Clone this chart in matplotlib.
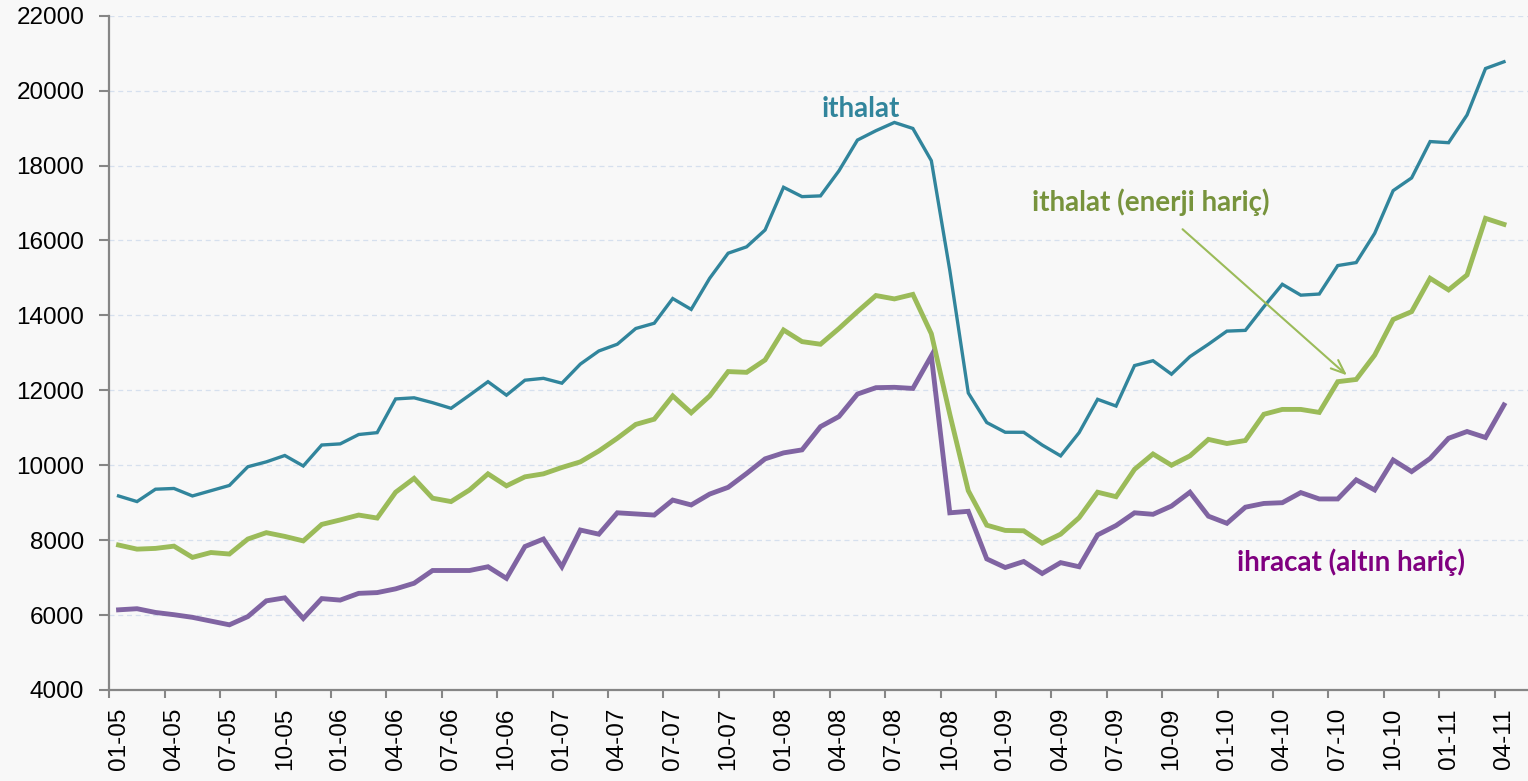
import matplotlib
matplotlib.use("Agg")
import matplotlib.pyplot as plt
import numpy as np

# ---- data (monthly, 01-2005 .. 04-2011) ----
ithalat = [9180, 9030, 9360, 9380, 9180, 9320, 9460, 9960, 10090, 10260, 9980, 10540,
           10570, 10820, 10870, 11770, 11800, 11670, 11520, 11870, 12230, 11870, 12270, 12320,
           12190, 12700, 13050, 13230, 13650, 13790, 14450, 14160, 14990, 15660, 15830, 16280,
           17420, 17170, 17190, 17860, 18680, 18930, 19150, 18990, 18130, 15200, 11930, 11140,
           10880, 10880, 10540, 10250, 10870, 11760, 11580, 12660, 12790, 12430, 12900, 13230,
           13580, 13600, 14230, 14830, 14540, 14570, 15330, 15410, 16190, 17330, 17670, 18640,
           18610, 19350, 20590, 20770]
ithalat_enerji_haric = [7870, 7760, 7780, 7840, 7540, 7670, 7630, 8030, 8200, 8100, 7980, 8420,
                        8540, 8670, 8590, 9280, 9650, 9120, 9030, 9340, 9770, 9450, 9690, 9770,
                        9940, 10090, 10380, 10720, 11090, 11230, 11850, 11400, 11850, 12500, 12480, 12810,
                        13610, 13300, 13230, 13650, 14100, 14530, 14440, 14560, 13510, 11360, 9320, 8400,
                        8260, 8250, 7920, 8160, 8600, 9280, 9160, 9890, 10300, 10000, 10250, 10690,
                        10580, 10660, 11360, 11490, 11490, 11410, 12230, 12290, 12940, 13890, 14100, 14990,
                        14680, 15080, 16590, 16430]
ihracat_altin_haric = [6140, 6170, 6070, 6010, 5940, 5840, 5740, 5960, 6380, 6460, 5910, 6440,
                       6400, 6580, 6600, 6700, 6850, 7190, 7190, 7190, 7290, 6980, 7830, 8030,
                       7290, 8270, 8160, 8730, 8700, 8670, 9070, 8940, 9230, 9410, 9780, 10170,
                       10330, 10410, 11030, 11300, 11900, 12070, 12080, 12050, 12920, 8730, 8770, 7500,
                       7270, 7430, 7110, 7400, 7290, 8140, 8390, 8730, 8690, 8910, 9280, 8640,
                       8450, 8880, 8980, 9000, 9270, 9100, 9100, 9610, 9340, 10140, 9830, 10180,
                       10720, 10900, 10740, 11610]
tick_labels = ["01-05", "04-05", "07-05", "10-05", "01-06", "04-06", "07-06", "10-06",
               "01-07", "04-07", "07-07", "10-07", "01-08", "04-08", "07-08", "10-08",
               "01-09", "04-09", "07-09", "10-09", "01-10", "04-10", "07-10", "10-10",
               "01-11", "04-11"]
label_ithalat = "ithalat"
label_enerji = "ithalat (enerji hariç)"
label_ihracat = "ihracat (altın hariç)"

# ---- style ----
BG = "#F8F8F8"
C_TEAL = "#31859C"
C_GREEN = "#9BBB59"
C_PURPLE = "#8064A2"
C_GREEN_TXT = "#77933C"
C_PURPLE_TXT = "#800080"
AXIS_C = "#868686"

W, H = 1528, 781
fig = plt.figure(figsize=(W / 100, H / 100), dpi=100, facecolor=BG)
ax = fig.add_axes([109.3 / W, 1 - 690 / H, 1 - 109.3 / W, (690 - 15.7) / H])
ax.set_facecolor(BG)

x = np.arange(len(ithalat))
ax.plot(x, ithalat, color=C_TEAL, lw=2.4, solid_joinstyle="miter", zorder=3)
ax.plot(x, ithalat_enerji_haric, color=C_GREEN, lw=3.5, solid_joinstyle="miter", zorder=3)
ax.plot(x, ihracat_altin_haric, color=C_PURPLE, lw=3.5, solid_joinstyle="miter", zorder=4)

ax.set_ylim(4000, 22000)
ax.set_xlim(-0.5, 76.3)
ax.set_yticks(np.arange(4000, 22001, 2000))
ax.yaxis.grid(True, color="#D6E0EE", lw=0.9, ls=(0, (4, 3)), zorder=0)
ax.set_axisbelow(True)

# category axis: ticks at boundaries every 3 months, labels at category centres
ax.set_xticks(np.arange(-0.5, 76, 3))
ax.set_xticklabels([])
ax.set_xticks(np.arange(0, 76, 3), minor=True)
ax.set_xticklabels(tick_labels, minor=True, rotation=90, fontsize=17.5,
                   family="Liberation Sans", color="#000000")
ax.tick_params(axis="x", which="major", length=6, width=1.5, color=AXIS_C, direction="out")
ax.tick_params(axis="x", which="minor", length=0, pad=13)
ax.tick_params(axis="y", length=7, width=1.5, color=AXIS_C, direction="out", pad=11,
               labelsize=17.5)
for lab in ax.get_yticklabels():
    lab.set_family("Liberation Sans")

for s in ("top", "right"):
    ax.spines[s].set_visible(False)
for s in ("left", "bottom"):
    ax.spines[s].set_color(AXIS_C)
    ax.spines[s].set_linewidth(1.6)

# annotations
ax.text(40.2, 19285, label_ithalat, color=C_TEAL, fontsize=20, fontweight="bold",
        family="Lato", ha="center", va="baseline")
ax.text(55.9, 16793, label_enerji, color=C_GREEN_TXT, fontsize=20, fontweight="bold",
        family="Lato", ha="center", va="baseline")
ax.text(66.7, 7184, label_ihracat, color=C_PURPLE_TXT, fontsize=20, fontweight="bold",
        family="Lato", ha="center", va="baseline")
ax.annotate("", xy=(66.5, 12400), xytext=(57.6, 16300),
            arrowprops=dict(arrowstyle="->,head_length=1.0,head_width=0.4",
                            color=C_GREEN, lw=1.5, shrinkA=0, shrinkB=0))

fig.savefig("out.png", dpi=100, facecolor=BG)
